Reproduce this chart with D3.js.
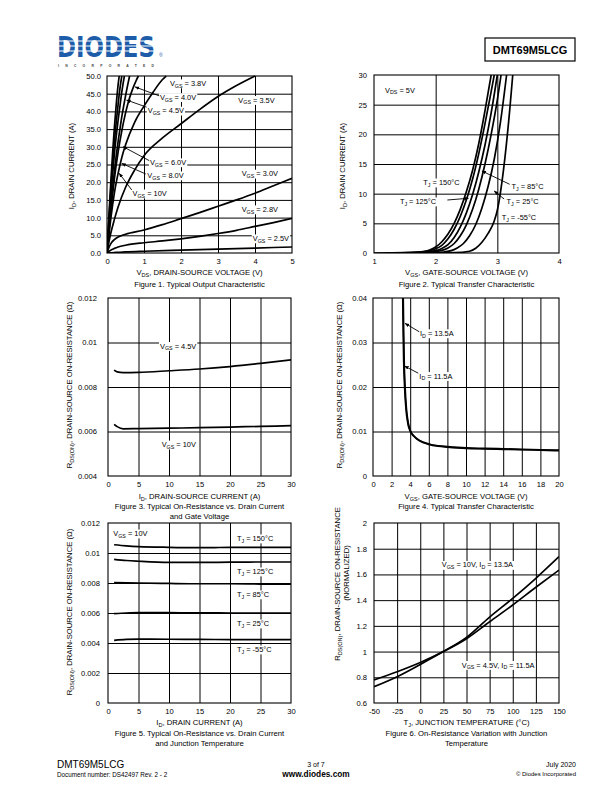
<!DOCTYPE html>
<html><head><meta charset="utf-8">
<script src="https://cdn.jsdelivr.net/npm/d3@7"></script>
<style>body{margin:0;background:#fff}svg{display:block}</style>
</head><body>
<svg id="page" width="612" height="792"></svg>
<script>
// ================= DATA =================
// Figure 1: Typical Output Characteristic  [VDS (V), ID (A)]
const f1XTicks = [0,1,2,3,4,5];
const f1XLabels = ["0","1","2","3","4","5"];
const f1YTicks = [0,5,10,15,20,25,30,35,40,45,50];
const f1YLabels = ["0.0","5.0","10.0","15.0","20.0","25.0","30.0","35.0","40.0","45.0","50.0"];
const f1Vgs10  = [[0,0],[0.05,10],[0.1,19.5],[0.15,28],[0.2,35.5],[0.25,42],[0.3,47.5],[0.33,50]];
const f1Vgs8   = [[0,0],[0.05,9],[0.1,17.5],[0.15,25],[0.2,31.5],[0.25,37],[0.3,42],[0.35,46.5],[0.4,50]];
const f1Vgs6   = [[0,0],[0.05,8],[0.1,15.5],[0.15,22],[0.2,28],[0.25,33],[0.3,37.5],[0.35,41.5],[0.4,45.5],[0.47,50]];
const f1Vgs4_5 = [[0,0],[0.05,6.5],[0.1,12.5],[0.15,18],[0.2,23],[0.25,27.5],[0.3,31.5],[0.35,35],[0.4,38.5],[0.45,41.5],[0.5,44.3],[0.55,47],[0.61,50]];
const f1Vgs4_0 = [[0,0],[0.05,6],[0.1,11.5],[0.2,21],[0.3,28.5],[0.4,34.5],[0.5,39.5],[0.6,43.5],[0.7,46.5],[0.8,49],[0.85,50]];
const f1Vgs3_8 = [[0,0],[0.05,5],[0.1,9.5],[0.2,17],[0.3,22.5],[0.4,27],[0.5,30.5],[0.75,37],[1,41.5],[1.25,45.5],[1.5,49],[1.6,50]];
const f1Vgs3_5 = [[0,0],[0.05,3],[0.1,5.5],[0.2,9.5],[0.3,13],[0.5,18.5],[0.75,23.5],[1,27.5],[1.5,32.5],[2,36.5],[2.5,40.5],[3,44.2],[3.5,47.3],[4,50]];
const f1Vgs3_0 = [[0,0],[0.05,1.5],[0.1,2.6],[0.2,3.8],[0.3,4.5],[0.5,5.3],[1,6.5],[1.5,8],[2,9.7],[2.5,11.4],[3,13.2],[3.5,15],[4,16.9],[4.5,19],[5,21.1]];
const f1Vgs2_8 = [[0,0],[0.1,0.8],[0.2,1.3],[0.3,1.7],[0.5,2.2],[1,2.9],[1.5,3.4],[2,4],[2.5,4.7],[3,5.5],[3.5,6.4],[4,7.5],[4.5,8.6],[5,9.8]];
const f1Vgs2_5 = [[0,0],[0.25,0.15],[0.5,0.3],[1,0.5],[2,0.8],[3,1.1],[4,1.4],[5,1.7]];

// Figure 2: Typical Transfer Characteristic  [VGS (V), ID (A)]
const f2XTicks = [1,2,3,4];
const f2XLabels = ["1","2","3","4"];
const f2YTicks = [0,5,10,15,20,25,30];
const f2YLabels = ["0","5","10","15","20","25","30"];
const f2CurveA = [[1.0,0],[1.5,0.05],[1.8,0.25],[1.9,0.5],[2.0,1],[2.1,1.9],[2.2,3.2],[2.3,5],[2.4,7.4],[2.5,10.4],[2.6,14],[2.7,18.5],[2.8,24],[2.9,30]];
const f2CurveB = [[1.2,0],[1.6,0.05],[1.9,0.35],[2.0,0.7],[2.1,1.3],[2.2,2.4],[2.3,4],[2.4,6.2],[2.5,9],[2.6,12.5],[2.7,16.8],[2.8,21.8],[2.9,27.2],[2.95,30]];
const f2CurveC = [[1.2,0],[1.7,0.05],[2.0,0.4],[2.1,0.75],[2.2,1.4],[2.3,2.6],[2.4,4.4],[2.5,6.8],[2.6,9.9],[2.7,13.7],[2.8,18.2],[2.9,23.6],[3.0,30]];
const f2CurveD = [[1.3,0],[1.8,0.05],[2.1,0.45],[2.2,0.85],[2.3,1.6],[2.4,2.9],[2.5,4.8],[2.6,7.4],[2.7,10.8],[2.8,15],[2.9,20],[3.0,25.8],[3.06,30]];
const f2CurveE = [[1.5,0],[2.0,0.05],[2.25,0.4],[2.35,0.85],[2.45,1.6],[2.55,2.9],[2.65,4.8],[2.75,7.6],[2.85,11.2],[2.95,15.8],[3.05,22],[3.15,30]];
const f2CurveF = [[1.8,0],[2.3,0.05],[2.55,0.3],[2.65,0.8],[2.75,1.8],[2.85,3.3],[2.95,5.4],[3.0,7.2],[3.1,14],[3.2,24],[3.25,30]];

// Figure 3: RDS(ON) vs ID and VGS  [ID (A), RDS (ohm)]
const f3XTicks = [0,5,10,15,20,25,30];
const f3XLabels = ["0","5","10","15","20","25","30"];
const f3YTicks = [0.004,0.006,0.008,0.01,0.012];
const f3YLabels = ["0.004","0.006","0.008","0.01","0.012"];
const f3Vgs4_5 = [[1,0.00876],[1.5,0.00868],[2.5,0.00865],[5,0.00866],[10,0.00873],[15,0.00881],[20,0.00892],[25,0.00906],[30,0.00922]];
const f3Vgs10  = [[1,0.00632],[1.5,0.00622],[2.5,0.00612],[5,0.00613],[10,0.00615],[15,0.00617],[20,0.0062],[25,0.00623],[30,0.00626]];

// Figure 4: RDS(ON) vs VGS  [VGS (V), RDS (ohm)]
const f4XTicks = [0,2,4,6,8,10,12,14,16,18,20];
const f4XLabels = ["0","2","4","6","8","10","12","14","16","18","20"];
const f4YTicks = [0,0.01,0.02,0.03,0.04];
const f4YLabels = ["0","0.01","0.02","0.03","0.04"];
const f4Id13_5 = [[3.25,0.04],[3.3,0.032],[3.35,0.026],[3.45,0.02],[3.6,0.015],[3.8,0.0118],[4,0.0103],[4.5,0.0088],[5,0.008],[6,0.0072],[7,0.0068],[8,0.0066],[10,0.0063],[12,0.0062],[14,0.0061],[16,0.006],[18,0.0059],[20,0.0058]];
const f4Id11_5 = [[3.2,0.04],[3.25,0.032],[3.3,0.026],[3.4,0.02],[3.55,0.015],[3.75,0.0118],[3.95,0.0103],[4.5,0.0087],[5,0.0079],[6,0.0071],[7,0.0067],[8,0.0065],[10,0.0062],[12,0.0061],[14,0.006],[16,0.0059],[18,0.0058],[20,0.0057]];

// Figure 5: RDS(ON) vs ID and TJ  [ID (A), RDS (ohm)]
const f5XTicks = [0,5,10,15,20,25,30];
const f5XLabels = ["0","5","10","15","20","25","30"];
const f5YTicks = [0,0.002,0.004,0.006,0.008,0.01,0.012];
const f5YLabels = ["0","0.002","0.004","0.006","0.008","0.01","0.012"];
const f5Tj150 = [[1,0.01055],[3,0.01048],[5,0.01043],[10,0.01038],[15,0.01036],[20,0.01037],[25,0.01037],[30,0.01037]];
const f5Tj125 = [[1,0.00958],[3,0.0095],[5,0.00945],[10,0.00937],[15,0.00937],[20,0.00939],[25,0.0094],[30,0.0094]];
const f5Tj85  = [[1,0.00802],[5,0.008],[10,0.00797],[15,0.00795],[20,0.00795],[25,0.00793],[30,0.00792]];
const f5Tj25  = [[1,0.00596],[3,0.006],[5,0.00602],[10,0.00602],[15,0.00601],[20,0.006],[25,0.006],[30,0.006]];
const f5TjM55 = [[1,0.00418],[3,0.00424],[5,0.00426],[10,0.00425],[15,0.00424],[20,0.00423],[25,0.00422],[30,0.00422]];

// Figure 6: normalized RDS(ON) vs TJ  [TJ (C), normalized]
const f6XTicks = [-50,-25,0,25,50,75,100,125,150];
const f6XLabels = ["-50","-25","0","25","50","75","100","125","150"];
const f6YTicks = [0.6,0.8,1,1.2,1.4,1.6,1.8,2];
const f6YLabels = ["0.6","0.8","1","1.2","1.4","1.6","1.8","2"];
const f6Vgs10  = [[-50,0.727],[-25,0.805],[0,0.9],[25,1.0],[50,1.11],[75,1.268],[100,1.414],[125,1.57],[150,1.738]];
const f6Vgs4_5 = [[-50,0.779],[-25,0.843],[0,0.915],[25,1.0],[50,1.1],[75,1.232],[100,1.362],[125,1.5],[150,1.634]];

// ================= DRAWING =================
const FONT = "'Liberation Sans', Arial, Helvetica, sans-serif";
const svg = d3.select("#page");
const defs = svg.append("defs");
defs.append("marker").attr("id","arr").attr("viewBox","0 0 10 10").attr("refX",9).attr("refY",5)
  .attr("markerWidth",5).attr("markerHeight",5).attr("orient","auto")
  .append("path").attr("d","M0,1 L10,5 L0,9 Z").attr("fill","#000");

function rich(sel, s, fs){
  const parts = s.split(/(_\{[^}]*\})/).filter(p=>p);
  let shifted = false;
  parts.forEach(p=>{
    if(p.startsWith("_{")){
      sel.append("tspan").attr("font-size",fs*0.72).attr("dy",fs*0.25).text(p.slice(2,-1));
      shifted = true;
    } else {
      const t = sel.append("tspan").text(p);
      if(shifted){ t.attr("dy",-fs*0.25); shifted=false; }
    }
  });
}
function addText(g, x, y, s, fs, anchor, rot){
  const t = g.append("text").attr("font-family",FONT).attr("font-size",fs).attr("fill","#000")
    .attr("text-anchor",anchor||"start");
  if(rot){ t.attr("transform",`translate(${x},${y}) rotate(${rot})`); }
  else { t.attr("x",x).attr("y",y); }
  rich(t, s, fs);
  return t;
}
const TFS = 7.7;   // titles / captions
const LFS = 7.4;   // in-plot labels

function chart(c, idx){
  const g = svg.append("g");
  const x = d3.scaleLinear().domain(c.xDomain).range([c.left,c.right]);
  const y = d3.scaleLinear().domain(c.yDomain).range([c.bottom,c.top]);
  const h = c.bottom-c.top, w = c.right-c.left;
  const inner = (arr, dom)=>arr.filter(v=>v>dom[0] && v<dom[1]);
  // grid
  g.append("g").attr("transform",`translate(0,${c.bottom})`)
    .call(d3.axisBottom(x).tickValues(inner(c.xTicks,c.xDomain)).tickSize(-h).tickFormat(""))
    .call(s=>s.select(".domain").remove())
    .selectAll("line").attr("stroke","#000").attr("stroke-width",1);
  g.append("g").attr("transform",`translate(${c.left},0)`)
    .call(d3.axisLeft(y).tickValues(inner(c.yTicks,c.yDomain)).tickSize(-w).tickFormat(""))
    .call(s=>s.select(".domain").remove())
    .selectAll("line").attr("stroke","#000").attr("stroke-width",1);
  // tick labels
  const ax = g.append("g").attr("transform",`translate(0,${c.bottom})`)
    .call(d3.axisBottom(x).tickValues(c.xTicks).tickSize(0).tickPadding(6).tickFormat((d,i)=>c.xLabels[i]));
  ax.select(".domain").remove();
  ax.attr("font-family",FONT).attr("font-size",7.6);
  const ay = g.append("g").attr("transform",`translate(${c.left},0)`)
    .call(d3.axisLeft(y).tickValues(c.yTicks).tickSize(0).tickPadding(c.yPad).tickFormat((d,i)=>c.yLabels[i]));
  ay.select(".domain").remove();
  ay.attr("font-family",FONT).attr("font-size",7.6);
  // clip
  const cid = "clip"+idx;
  defs.append("clipPath").attr("id",cid).append("rect")
    .attr("x",c.left).attr("y",c.top-1).attr("width",w).attr("height",h+1);
  const line = d3.line().x(d=>x(d[0])).y(d=>y(d[1])).curve(d3.curveMonotoneX);
  const sg = g.append("g").attr("clip-path",`url(#${cid})`);
  c.series.forEach(s=>{
    sg.append("path").attr("d",line(s)).attr("fill","none").attr("stroke","#000")
      .attr("stroke-width",1.7).attr("stroke-linejoin","round");
  });
  // annotations with white backing
  const lg = g.append("g");
  (c.labels||[]).forEach(l=>{
    const t = addText(lg, x(l[0]), y(l[1]), l[2], LFS, "start");
    const b = t.node().getBBox();
    lg.insert("rect", () => t.node()).attr("x",b.x-1).attr("y",b.y+0.5).attr("width",b.width+2).attr("height",b.height-1)
      .attr("fill","#fff");
  });
  (c.arrows||[]).forEach(a=>{
    g.append("line").attr("x1",x(a[0])).attr("y1",y(a[1])).attr("x2",x(a[2])).attr("y2",y(a[3]))
      .attr("stroke","#000").attr("stroke-width",0.9).attr("marker-end","url(#arr)");
  });
  g.append("rect").attr("x",c.left).attr("y",c.top).attr("width",w).attr("height",h)
    .attr("fill","none").attr("stroke","#000").attr("stroke-width",1.1);
  // titles
  const cx = (c.left+c.right)/2;
  addText(g, cx, c.xTitleY, c.xTitle, TFS, "middle");
  c.caption.forEach((t,i)=>addText(g, cx, c.captionY+i*10, t, TFS, "middle"));
  c.yTitle.forEach((t,i)=>addText(g, c.yTitleX[i], c.yTitleY[i], t, TFS, "middle", -90));
}

const RDS = "R_{DS(ON)}, DRAIN-SOURCE ON-RESISTANCE (\u03A9)";
const charts = [
 {left:107,right:292,top:76,bottom:253,xDomain:[0,5],yDomain:[0,50],xTicks:f1XTicks,xLabels:f1XLabels,yTicks:f1YTicks,yLabels:f1YLabels,yPad:6,
  series:[f1Vgs10,f1Vgs8,f1Vgs6,f1Vgs4_5,f1Vgs4_0,f1Vgs3_8,f1Vgs3_5,f1Vgs3_0,f1Vgs2_8,f1Vgs2_5],
  labels:[[1.70,47.2,"V_{GS} = 3.8V"],[1.43,43.3,"V_{GS} = 4.0V"],[1.10,39.5,"V_{GS} = 4.5V"],[3.55,42.5,"V_{GS} = 3.5V"],
          [1.16,24.9,"V_{GS} = 6.0V"],[1.09,21.2,"V_{GS} = 8.0V"],[0.69,16.1,"V_{GS} = 10V"],
          [3.64,21.7,"V_{GS} = 3.0V"],[3.64,11.6,"V_{GS} = 2.8V"],[3.94,3.4,"V_{GS} = 2.5V"]],
  arrows:[[1.41,44.4,0.76,46.9],[1.07,41.2,0.53,43.2],[1.14,26.1,0.44,30],[1.05,22.3,0.40,25.3],[0.67,17.8,0.33,22.5]],
  xTitle:"V_{DS}, DRAIN-SOURCE VOLTAGE (V)",xTitleY:275,caption:["Figure 1. Typical Output Characteristic"],captionY:287,
  yTitle:["I_{D}, DRAIN CURRENT (A)"],yTitleX:[74],yTitleY:[166]},
 {left:374,right:559,top:75,bottom:253,xDomain:[1,4],yDomain:[0,30],xTicks:f2XTicks,xLabels:f2XLabels,yTicks:f2YTicks,yLabels:f2YLabels,yPad:7,
  series:[f2CurveA,f2CurveB,f2CurveC,f2CurveD,f2CurveE,f2CurveF],
  labels:[[1.18,27.05,"V_{DS} = 5V"],[1.80,11.46,"T_{J} = 150\u00B0C"],[1.42,8.26,"T_{J} = 125\u00B0C"],
          [3.23,10.8,"T_{J} = 85\u00B0C"],[3.15,8.26,"T_{J} = 25\u00B0C"],[3.07,5.56,"T_{J} = -55\u00B0C"]],
  arrows:[[2.19,8.93,2.53,9.22],[3.2,11.58,2.75,13.82],[3.11,9.1,2.95,10.45]],
  xTitle:"V_{GS}, GATE-SOURCE VOLTAGE (V)",xTitleY:275,caption:["Figure 2. Typical Transfer Characteristic"],captionY:287,
  yTitle:["I_{D}, DRAIN CURRENT (A)"],yTitleX:[345],yTitleY:[166]},
 {left:108,right:291,top:298,bottom:476,xDomain:[0,30],yDomain:[0.004,0.012],xTicks:f3XTicks,xLabels:f3XLabels,yTicks:f3YTicks,yLabels:f3YLabels,yPad:11,
  series:[f3Vgs4_5,f3Vgs10],
  labels:[[8.52,0.00973,"V_{GS} = 4.5V"],[8.8,0.0053,"V_{GS} = 10V"]],
  xTitle:"I_{D}, DRAIN-SOURCE CURRENT (A)",xTitleY:499,caption:["Figure 3. Typical On-Resistance vs. Drain Current","and Gate Voltage"],captionY:509,
  yTitle:[RDS],yTitleX:[72],yTitleY:[385]},
 {left:373,right:559,top:298,bottom:476,xDomain:[0,20],yDomain:[0,0.04],xTicks:f4XTicks,xLabels:f4XLabels,yTicks:f4YTicks,yLabels:f4YLabels,yPad:6,
  series:[f4Id13_5,f4Id11_5],
  labels:[[5.05,0.0315,"I_{D} = 13.5A"],[4.98,0.0219,"I_{D} = 11.5A"]],
  arrows:[[4.98,0.0324,3.45,0.0343],[4.87,0.0231,3.4,0.0247]],
  xTitle:"V_{GS}, GATE-SOURCE VOLTAGE (V)",xTitleY:499,caption:["Figure 4. Typical Transfer Characteristic"],captionY:509,
  yTitle:[RDS],yTitleX:[342],yTitleY:[385]},
 {left:108,right:291,top:523,bottom:703,xDomain:[0,30],yDomain:[0,0.012],xTicks:f5XTicks,xLabels:f5XLabels,yTicks:f5YTicks,yLabels:f5YLabels,yPad:8,
  series:[f5Tj150,f5Tj125,f5Tj85,f5Tj25,f5TjM55],
  labels:[[0.87,0.01113,"V_{GS} = 10V"],[21.15,0.0108,"T_{J} = 150\u00B0C"],[21.15,0.0086,"T_{J} = 125\u00B0C"],
          [21.15,0.00707,"T_{J} = 85\u00B0C"],[21.15,0.00513,"T_{J} = 25\u00B0C"],[21.15,0.0034,"T_{J} = -55\u00B0C"]],
  xTitle:"I_{D}, DRAIN CURRENT (A)",xTitleY:725,caption:["Figure 5. Typical On-Resistance vs. Drain Current","and Junction Temperature"],captionY:736,
  yTitle:[RDS],yTitleX:[72],yTitleY:[612]},
 {left:374,right:559,top:523,bottom:703,xDomain:[-50,150],yDomain:[0.6,2],xTicks:f6XTicks,xLabels:f6XLabels,yTicks:f6YTicks,yLabels:f6YLabels,yPad:7,
  series:[f6Vgs10,f6Vgs4_5],
  labels:[[23.2,1.654,"V_{GS} = 10V, I_{D} = 13.5A"],[44.8,0.876,"V_{GS} = 4.5V, I_{D} = 11.5A"]],
  xTitle:"T_{J}, JUNCTION TEMPERATURE (\u00B0C)",xTitleY:725,caption:["Figure 6. On-Resistance Variation with Junction","Temperature"],captionY:736,
  yTitle:["R_{DS(ON)}, DRAIN-SOURCE ON-RESISTANCE","(NORMALIZED)"],yTitleX:[340,349],yTitleY:[584,573]}
];
charts.forEach(chart);

// ================= HEADER / FOOTER =================
const hd = svg.append("g");
const logoT = hd.append("text").attr("x",0).attr("y",0).attr("font-family","'DejaVu Sans', sans-serif").attr("font-weight","bold")
  .attr("font-size",28).attr("fill","#1d5ca8").text("DIODES");
const natW = logoT.node().getComputedTextLength();
logoT.attr("transform",`translate(57,56.5) scale(${98/natW},1)`);
[41,46,51].forEach(yy=>hd.append("line").attr("x1",55).attr("x2",157).attr("y1",yy).attr("y2",yy)
  .attr("stroke","#fff").attr("stroke-width",1.1));
hd.append("text").attr("x",159).attr("y",57).attr("font-family",FONT).attr("font-size",5).attr("fill","#1d5ca8").text("\u00AE");
hd.append("text").attr("x",58).attr("y",66.5).attr("font-family",FONT).attr("font-weight","bold").attr("font-size",3.4)
  .attr("textLength",96).attr("fill","#444").text("I N C O R P O R A T E D");
hd.append("rect").attr("x",485).attr("y",38).attr("width",90).attr("height",23).attr("fill","none").attr("stroke","#000").attr("stroke-width",1.2);
hd.append("text").attr("x",530).attr("y",53.5).attr("text-anchor","middle").attr("font-family",FONT).attr("font-weight","bold")
  .attr("font-size",11).text("DMT69M5LCG");

const ft = svg.append("g").attr("font-family",FONT).attr("fill","#000");
ft.append("text").attr("x",57).attr("y",768).attr("font-size",10).text("DMT69M5LCG");
ft.append("text").attr("x",57).attr("y",777).attr("font-size",6.3).text("Document number: DS42497 Rev. 2 - 2");
ft.append("text").attr("x",316).attr("y",767).attr("text-anchor","middle").attr("font-size",7).text("3 of 7");
ft.append("text").attr("x",316).attr("y",777).attr("text-anchor","middle").attr("font-size",8.3).attr("font-weight","bold").text("www.diodes.com");
ft.append("text").attr("x",576).attr("y",767).attr("text-anchor","end").attr("font-size",7).text("July 2020");
ft.append("text").attr("x",576).attr("y",776).attr("text-anchor","end").attr("font-size",6).text("\u00A9 Diodes Incorporated");
</script>
</body></html>
